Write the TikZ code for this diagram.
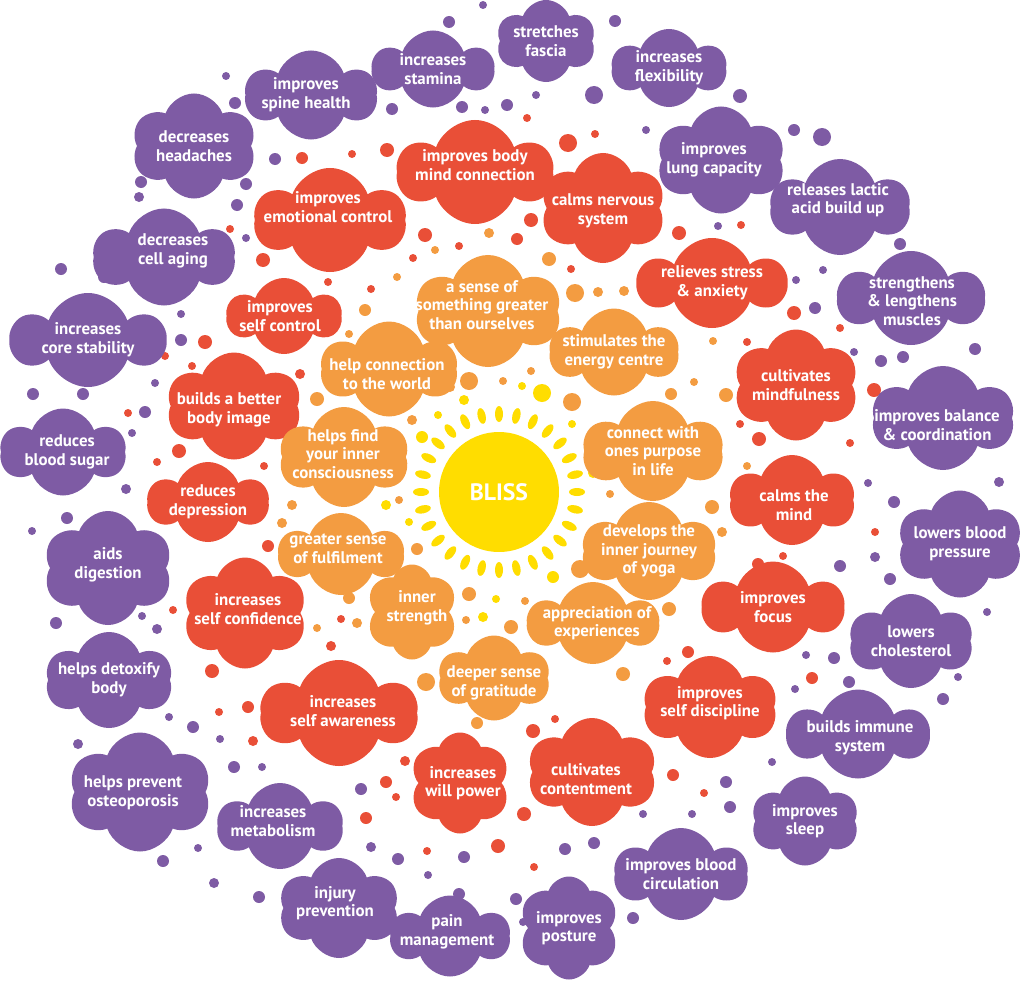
\documentclass[tikz,border=0pt]{standalone}
\usepackage{fontspec}
\setmainfont{PT Sans}
\usetikzlibrary{shapes.symbols}

\definecolor{plum}{HTML}{7E5BA4}
\definecolor{tomato}{HTML}{E94F37}
\definecolor{apricot}{HTML}{F39C41}
\definecolor{sun}{HTML}{FFDD00}

\tikzset{
  puff/.style={cloud, cloud puffs=6, cloud puff arc=140, cloud ignores aspect, inner sep=0pt},
  pbl/.style={puff, fill=plum},
  rbl/.style={puff, fill=tomato},
  obl/.style={puff, fill=apricot},
  wh/.style={text=white, align=center, inner sep=0pt,
    font=\bfseries\fontsize{9.6}{10.6}\selectfont},
  sz/.style 2 args={minimum width=#1*0.02cm, minimum height=#2*0.02cm},
}

\begin{document}
\begin{tikzpicture}[x=0.02cm, y=-0.02cm]
\useasboundingbox (0,0) rectangle (1023,980);

% small dots
\foreach \x/\y/\r in {483/5/4, 449/22/6, 226/76/4, 235/103/6, 392/109/6, 462/107/6, 485/110/4, 507/105/6,
  275/159/6, 141/182/6, 139/197/5, 246/184/6, 237/205/6, 246/238/4, 61/269/6, 104/277/6, 181/314/4,
  181/340/6, 155/383/4, 33/394/6, 83/394/6, 145/412/6, 132/433/4, 615/21/6, 536/95/4, 594/95/9,
  740/96/7, 646/130/4, 794/130/6, 822/137/9, 718/226/4, 900/244/6, 796/280/4, 823/270/4, 815/308/6,
  854/352/4, 881/361/6, 903/357/6, 975/349/6, 868/483/4, 999/482/5, 126/489/5, 67/518/6, 32/531/4,
  56/623/6, 142/616/4, 157/629/5, 169/717/4, 193/727/6, 78/744/5, 220/739/4, 234/767/6, 262/767/4,
  361/789/6, 371/847/5, 398/859/6, 428/875/4, 464/857/6, 459/894/6, 198/848/4, 163/861/6, 214/883/5,
  259/897/6, 894/502/6, 875/557/5, 840/566/6, 890/579/6, 987/612/4, 806/655/4, 834/658/6, 849/682/6,
  795/689/4, 958/677/4, 943/699/6, 772/762/4, 726/782/6, 730/807/6, 692/814/4, 643/814/4, 594/843/6,
  565/849/6, 633/918/6, 516/899/6, 523/922/4}
  \fill[plum] (\x,\y) circle (\r);
\foreach \x/\y/\r in {302/158/6, 352/154/4, 387/150/7, 230/229/4, 263/260/7, 328/282/4, 371/289/4,
  425/235/7, 459/246/4, 413/258/4, 205/342/7, 165/356/4, 192/366/4, 300/374/5, 128/413/4, 179/451/7,
  157/462/4, 264/466/4, 527/118/4, 595/134/4, 568/143/9, 531/220/7, 517/239/6, 679/233/7, 741/225/4,
  571/269/4, 794/313/7, 840/328/4, 747/342/4, 874/390/7, 740/424/4, 759/439/7, 850/443/4, 268/546/6,
  173/610/4, 341/619/4, 331/646/5, 212/671/7, 248/707/6, 219/712/4, 253/741/5, 405/761/5, 386/782/6,
  396/797/4, 366/818/6, 427/851/4, 498/846/7, 875/532/4, 758/564/6, 783/556/4, 812/678/6, 688/652/6,
  667/661/4, 555/719/4, 533/731/7, 673/775/6, 704/793/4, 524/814/7, 534/867/4}
  \fill[tomato] (\x,\y) circle (\r);
\foreach \x/\y/\r in {489/233/5, 435/250/4, 397/277/4, 365/310/6, 349/334/4, 469/381/9, 450/387/5,
  503/381/4, 317/399/7, 412/420/5, 549/259/7, 575/293/9, 598/292/5, 624/291/5, 713/341/4, 531/371/4,
  694/382/4, 671/394/6, 726/395/7, 572/402/9, 747/466/4, 292/505/5, 282/523/5, 399/500/4, 417/549/6,
  349/598/6, 317/628/4, 357/623/5, 469/594/7, 466/620/4, 426/682/9, 477/723/6, 610/494/4, 712/507/7,
  722/532/5, 580/569/9, 525/601/4, 669/609/7, 623/674/7, 511/627/7}
  \fill[apricot] (\x,\y) circle (\r);
\foreach \x/\y/\r in {464/400/5, 438/415/4, 422/437/6, 522/386/4, 542/393/9, 572/424/4, 593/473/5,
  386/505/5, 409/522/4, 496/599/4, 483/617/5, 553/577/6}
  \fill[sun] (\x,\y) circle (\r);

% sun
\foreach \i in {0,...,27}
  \fill[sun, shift={(499,492)}, rotate=\i*360/28] (78,0) ellipse (8 and 4);
\node[circle, fill=sun, minimum size=2.4cm, text=white,
  font=\bfseries\fontsize{13.5}{16}\selectfont] (bliss) at (499,492) {BLISS};

% outer ring
\node[pbl, sz={100}{82}, label={[wh]center:stretches\\fascia}] (fascia) at (546,41) {};
\node[pbl, sz={120}{77}, label={[wh]center:increases\\stamina}] (stamina) at (433,69) {};
\node[pbl, sz={114}{78}, label={[wh]center:increases\\flexibility}] (flex) at (669,68) {};
\node[pbl, sz={131}{89}, label={[wh, shift={(-5,0)}]center:improves\\spine health}] (spine) at (311,95) {};
\node[pbl, sz={125}{105}, label={[wh]center:decreases\\headaches}] (headache) at (194,146) {};
\node[pbl, sz={129}{107}, label={[wh, shift={(-7,0)}]center:improves\\lung capacity}] (lung) at (721,160) {};
\node[pbl, sz={139}{96}, label={[wh, shift={(-2,-7)}]center:releases lactic\\acid build up}] (lactic) at (840,207) {};
\node[pbl, sz={141}{97}, label={[wh, shift={(9,-6)}]center:decreases\\cell aging}] (aging) at (164,257) {};
\node[pbl, sz={145}{94}, label={[wh, shift={(1,3)}]center:strengthens\\\& lengthens\\muscles}] (muscles) at (911,298) {};
\node[pbl, sz={152}{94}, label={[wh]center:increases\\core stability}] (core) at (88,340) {};
\node[pbl, sz={142}{104}, label={[wh, shift={(-6,7)}]center:improves balance\\\& coordination}] (balance) at (943,418) {};
\node[pbl, sz={125}{87}, label={[wh, shift={(4,0)}]center:reduces\\blood sugar}] (sugar) at (63,452) {};
\node[pbl, sz={126}{107}, label={[wh]center:lowers blood\\pressure}] (pressure) at (960,544) {};
\node[pbl, sz={130}{114}, label={[wh, shift={(0,-3)}]center:aids\\digestion}] (digest) at (108,568) {};
\node[pbl, sz={124}{94}, label={[wh]center:lowers\\cholesterol}] (chol) at (911,641) {};
\node[pbl, sz={127}{96}, label={[wh]center:helps detoxify\\body}] (detox) at (109,680) {};
\node[pbl, sz={140}{89}, label={[wh, shift={(2,4)}]center:builds immune\\system}] (immune) at (858,734) {};
\node[pbl, sz={143}{119}, label={[wh, shift={(-7,1)}]center:helps prevent\\osteoporosis}] (osteo) at (140,792) {};
\node[pbl, sz={108}{89}, label={[wh]center:improves\\sleep}] (sleep) at (805,821) {};
\node[pbl, sz={125}{86}, label={[wh, shift={(-7,-5)}]center:increases\\metabolism}] (metab) at (280,826) {};
\node[pbl, sz={133}{92}, label={[wh]center:improves blood\\circulation}] (circ) at (681,874) {};
\node[pbl, sz={121}{100}, label={[wh, shift={(-4,-5)}]center:injury\\prevention}] (injury) at (339,908) {};
\node[pbl, sz={119}{81}, label={[wh, shift={(-3,-4)}]center:pain\\management}] (pain) at (450,936) {};
\node[pbl, sz={101}{103}, label={[wh]center:improves\\posture}] (posture) at (569,928) {};

% middle ring
\node[rbl, sz={155}{104}, label={[wh, shift={(0,-7)}]center:improves body\\mind connection}] (bodymind) at (475,172) {};
\node[rbl, sz={151}{104}, label={[wh, shift={(-2,-13)}]center:improves\\emotional control}] (emotion) at (330,220) {};
\node[rbl, sz={126}{110}, label={[wh, shift={(0,3)}]center:calms nervous\\system}] (nervous) at (603,208) {};
\node[rbl, sz={146}{90}, label={[wh]center:relieves stress\\\& anxiety}] (stress) at (712,283) {};
\node[rbl, sz={114}{76}, label={[wh, shift={(-4,0)}]center:improves\\self control}] (selfctl) at (284,316) {};
\node[rbl, sz={126}{111}, label={[wh]center:cultivates\\mindfulness}] (mindful) at (796,385) {};
\node[rbl, sz={135}{107}, label={[wh, shift={(-5,4)}]center:builds a better\\body image}] (bodyimg) at (234,406) {};
\node[rbl, sz={120}{80}, label={[wh]center:reduces\\depression}] (depress) at (208,502) {};
\node[rbl, sz={125}{90}, label={[wh, shift={(2,5)}]center:calms the\\mind}] (calm) at (792,500) {};
\node[rbl, sz={125}{111}, label={[wh, shift={(3,-4)}]center:increases\\self confidence}] (confid) at (245,613) {};
\node[rbl, sz={140}{91}, label={[wh]center:improves\\focus}] (focus) at (773,607) {};
\node[rbl, sz={134}{102}, label={[wh, shift={(0,-4)}]center:improves\\self discipline}] (discip) at (710,707) {};
\node[rbl, sz={156}{106}, label={[wh, shift={(4,-2)}]center:increases\\self awareness}] (aware) at (339,713) {};
\node[rbl, sz={101}{101}, label={[wh, shift={(3,0)}]center:increases\\will power}] (will) at (460,783) {};
\node[rbl, sz={130}{108}, label={[wh, shift={(-6,7)}]center:cultivates\\contentment}] (content) at (592,772) {};

% inner ring
\node[obl, sz={146}{112}, label={[wh, shift={(-6,-6)}]center:a sense of\\something greater\\than ourselves}] (greater) at (488,311) {};
\node[obl, sz={136}{95}, label={[wh, shift={(-2,5)}]center:help connection\\to the world}] (world) at (389,369) {};
\node[obl, sz={128}{87}, label={[wh]center:stimulates the\\energy centre}] (energy) at (614,352) {};
\node[obl, sz={130}{100}, label={[wh, shift={(-1,-3)}]center:helps find\\your inner\\consciousness}] (conscious) at (344,457) {};
\node[obl, sz={140}{100}, label={[wh]center:connect with\\ones purpose\\in life}] (purpose) at (653,451) {};
\node[obl, sz={124}{82}, label={[wh, shift={(-3,-5)}]center:greater sense\\of fulfilment}] (fulfil) at (341,554) {};
\node[obl, sz={134}{98}, label={[wh]center:develops the\\inner journey\\of yoga}] (yoga) at (649,551) {};
\node[obl, sz={92}{95}, label={[wh, shift={(5,-4)}]center:inner\\strength}] (strength) at (412,612) {};
\node[obl, sz={129}{82}, label={[wh, shift={(4,0)}]center:appreciation of\\experiences}] (apprec) at (593,623) {};
\node[obl, sz={112}{85}, label={[wh, shift={(0,5)}]center:deeper sense\\of gratitude}] (gratitude) at (494,678) {};
\end{tikzpicture}
\end{document}
